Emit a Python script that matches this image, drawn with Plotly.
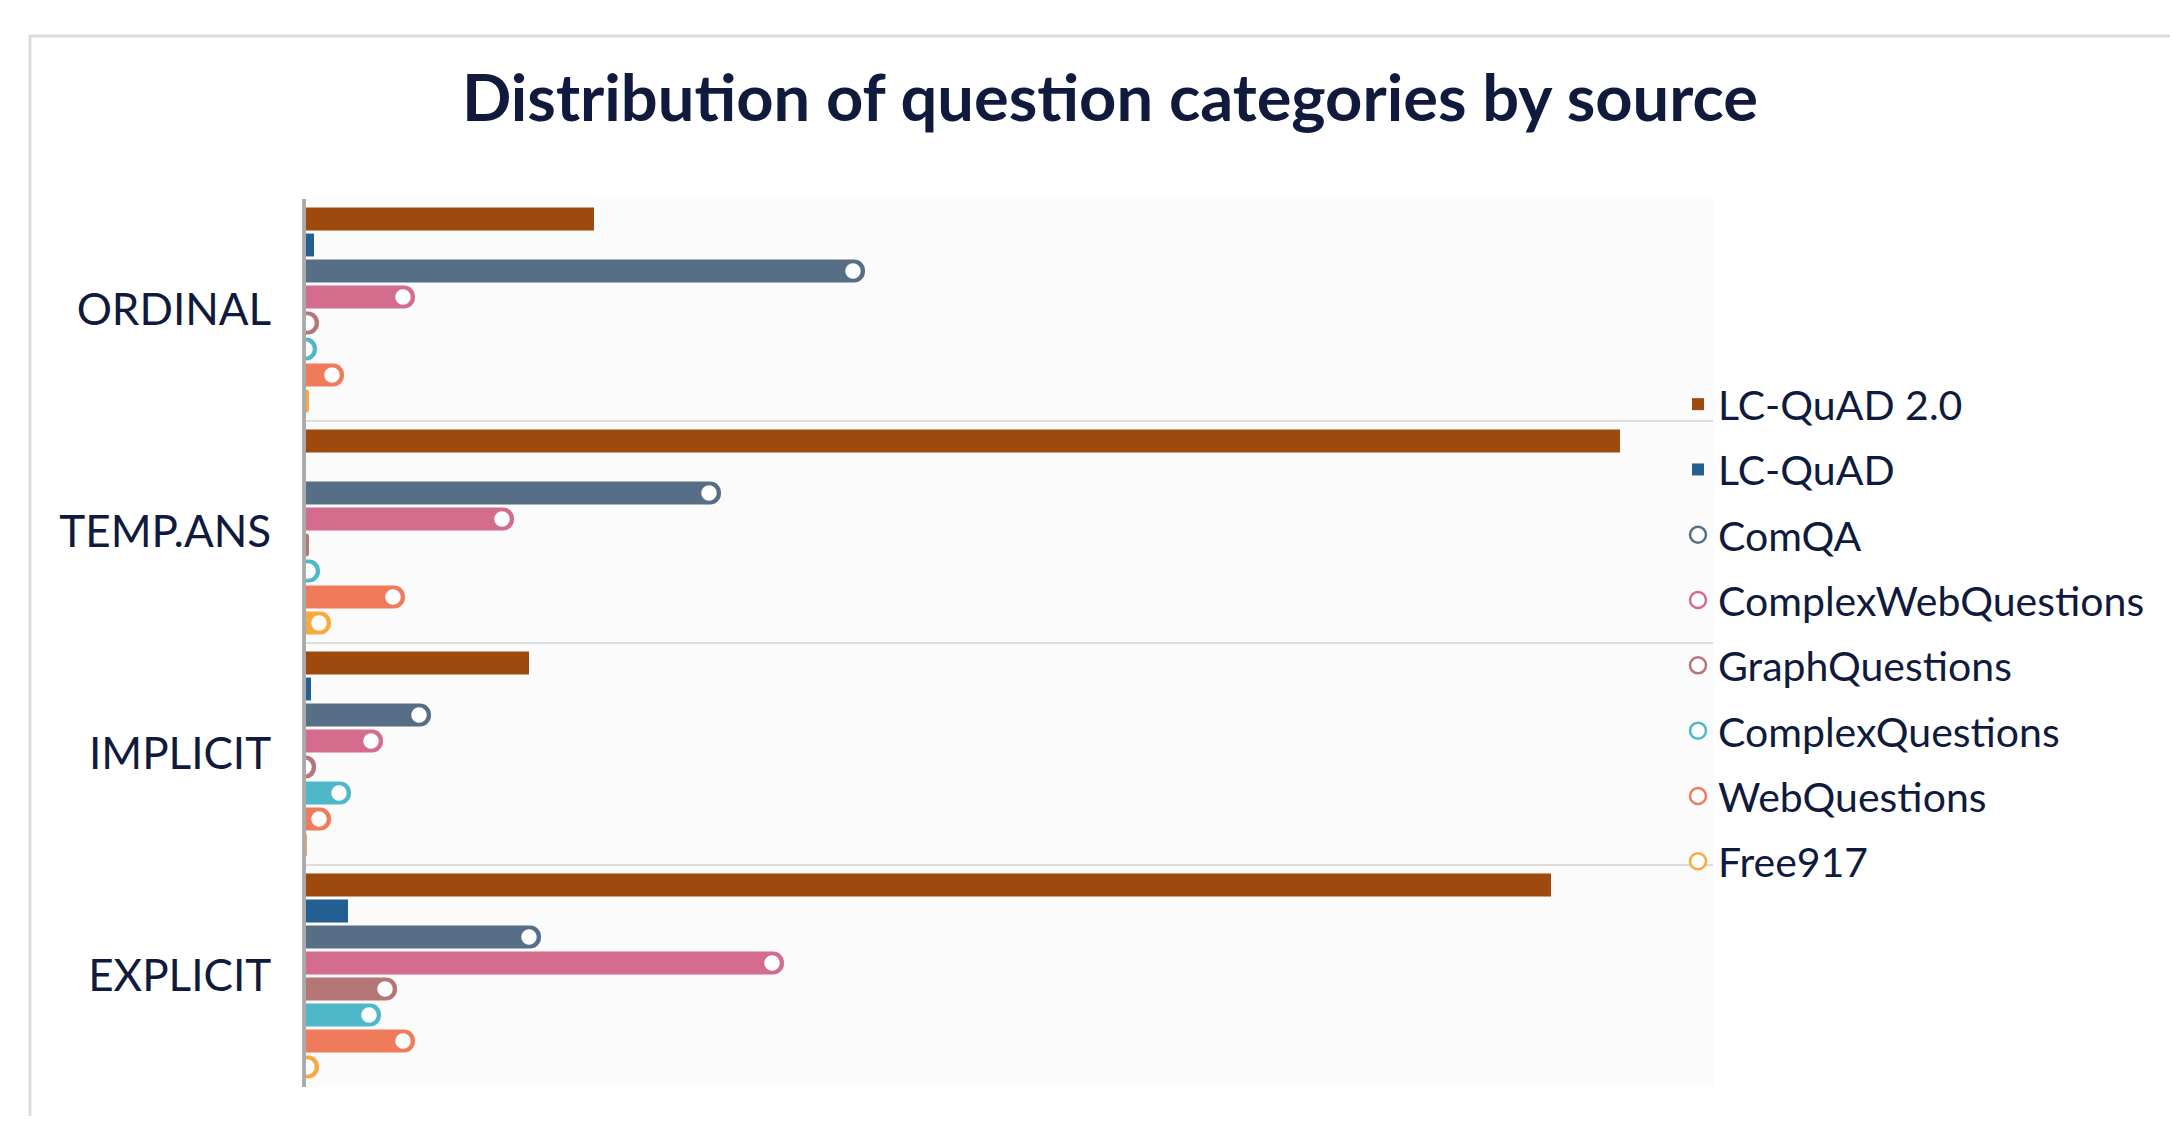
import plotly.graph_objects as go

# ---------------- data ----------------
categories = ["ORDINAL", "TEMP.ANS", "IMPLICIT", "EXPLICIT"]

series_names = ["LC-QuAD 2.0", "LC-QuAD", "ComQA", "ComplexWebQuestions",
                "GraphQuestions", "ComplexQuestions", "WebQuestions", "Free917"]

lcquad2 = [288, 1314, 223, 1245]
lcquad = [8, 0, 5, 42]
comqa = [559, 415, 125, 235]
complexwebq = [109, 208, 77, 478]
graphq = [13, 3, 10, 91]
complexq = [11, 14, 45, 75]
webq = [38, 99, 25, 109]
free917 = [3, 25, 1, 13]

series_values = [lcquad2, lcquad, comqa, complexwebq, graphq, complexq, webq, free917]

# ---------------- style ----------------
colors = ["#9e4a0f", "#245f92", "#566e86", "#d46d8d",
          "#b57676", "#4fb8c8", "#f07b5b", "#f6aa3f"]
rounded = [False, False, True, True, True, True, True, True]
TEXT = "#0f1a3c"
FONT = "Lato"
W, H = 2162, 1108              # page body has an 8px margin
L, R, T, B = 298, 457, 191, 29
plot_w = W - L - R
plot_h = H - T - B
x_max = plot_w                 # 1 data unit == 1 px of the plot
cap_r = 12                     # offset of the dot from the bar end (px)

fig = go.Figure()
for i, (name, vals, col, rnd) in enumerate(zip(series_names, series_values, colors, rounded)):
    grp = f"g{i}"
    fig.add_trace(go.Bar(
        y=categories, x=vals, orientation="h", name=name,
        marker=dict(color=col, line=dict(width=0),
                    cornerradius=11 if rnd else 0),
        offsetgroup=str(i), legendgroup=grp,
        showlegend=not rnd, hoverinfo="x+name",
    ))
    fig.add_trace(go.Scatter(
        y=categories, x=[v - cap_r for v in vals], mode="markers", name=name,
        orientation="h",
        marker=dict(size=18, color="white", opacity=1 if rnd else 0,
                    line=dict(color=col, width=2.5 if rnd else 0)),
        offsetgroup=str(i), legendgroup=grp,
        showlegend=rnd, hoverinfo="skip", cliponaxis=True,
    ))

px_x = lambda px: (px - L) / plot_w
px_y = lambda py: (H - B - py) / plot_h

fig.update_layout(
    width=W, height=H,
    margin=dict(l=L, r=R, t=T, b=B, pad=0),
    paper_bgcolor="white", plot_bgcolor="#fbfbfb",
    barmode="group", bargap=0.063, bargroupgap=0.12,
    scattermode="group", scattergap=0.063,
    font=dict(family=FONT, color=TEXT),
    title=dict(text="Distribution of question categories by source",
               font=dict(family=FONT, size=65, color=TEXT, weight=700),
               x=1102 / W, xref="container", xanchor="center",
               y=1 - 90 / H, yref="container", yanchor="middle"),
    xaxis=dict(range=[0, x_max], showgrid=False, zeroline=False,
               showticklabels=False, showline=False, fixedrange=True),
    yaxis=dict(categoryorder="array", categoryarray=categories,
               autorange="reversed", tickson="boundaries",
               showgrid=True, gridcolor="#dddddd", gridwidth=2,
               showline=True, linecolor="#aaaaaa", linewidth=4,
               ticks="", ticklabelstandoff=22,
               tickfont=dict(family=FONT, size=44, color=TEXT)),
    legend=dict(x=px_x(1670), xanchor="left", y=px_y(363), yanchor="top",
                font=dict(family=FONT, size=41, color=TEXT),
                tracegroupgap=9, bgcolor="rgba(0,0,0,0)", itemsizing="trace"),
    shapes=[dict(type="rect", xref="paper", yref="paper", layer="below",
                 x0=px_x(22), x1=px_x(W + 30),
                 y0=px_y(H + 30), y1=px_y(28),
                 line=dict(color="#dddddd", width=3), fillcolor="rgba(0,0,0,0)")],
)

fig.write_html("out.html")
